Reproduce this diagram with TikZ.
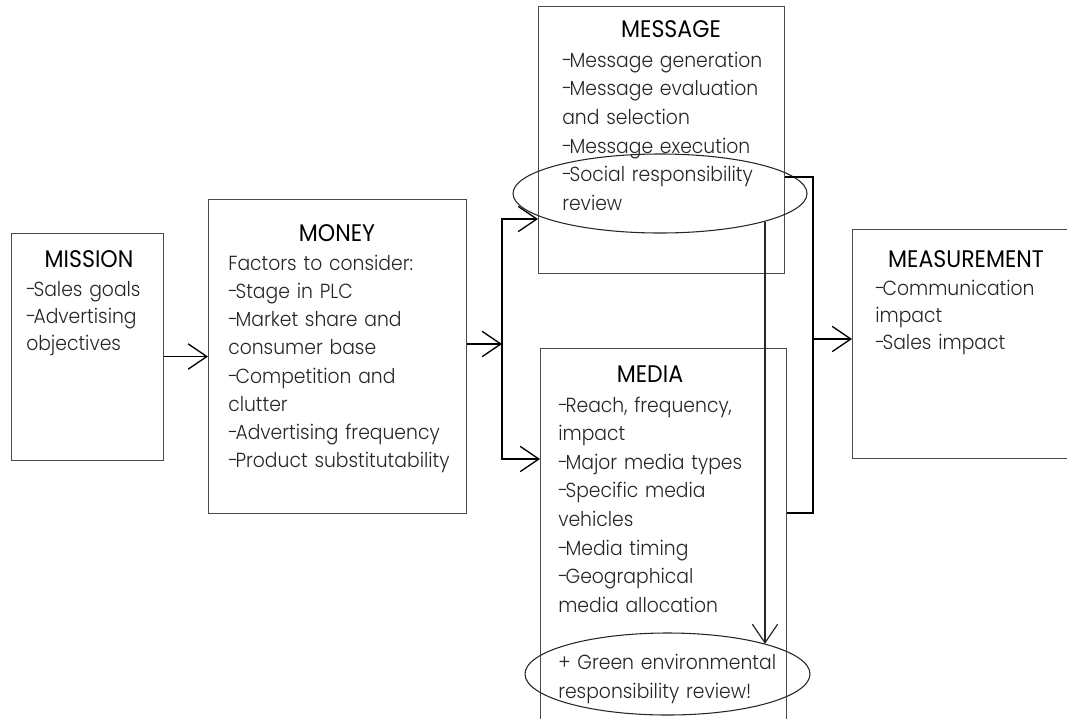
\documentclass[tikz,border=0pt]{standalone}
\usepackage{fontspec}
\setmainfont{Poppins}[UprightFont=* Light, FakeStretch=0.92]
\newfontfamily\titlefont{Poppins}[FakeStretch=0.92]
\usetikzlibrary{arrows.meta,shapes.geometric}

\definecolor{boxline}{HTML}{4A4A4A}
\definecolor{bodytext}{HTML}{262626}

% tight list dash
\newcommand{\ld}{-\kern-0.12em}

\tikzset{
  panel/.style={draw=boxline, line width=0.8pt, anchor=north west, inner sep=0pt},
  heading/.style={anchor=base, inner sep=0pt, font=\titlefont\fontsize{18}{20}\selectfont},
  body/.style={anchor=base west, inner sep=0pt, text width=300pt, align=left,
               text=bodytext, font=\fontsize{15.3}{#1}\selectfont},
  body/.default=21.4pt,
  ring/.style={draw=black!85, line width=0.8pt, ellipse, inner sep=0pt},
  barb/.tip={Straight Barb[length=14pt, width=19pt, line width=1pt]},
  link/.style={draw=black, line width=1.2pt, line join=miter},
  arr/.style={link, -barb},
  twoarr/.style={link, barb-barb},
  thinarr/.style={draw=black!85, line width=0.9pt, -{Straight Barb[length=14pt, width=19pt, line width=0.9pt]}}
}

\begin{document}
\begin{tikzpicture}[x=0.75pt, y=-0.75pt]
  \path[use as bounding box, clip] (0,0) rectangle (1067,718);

  % the five boxes
  \node[panel, minimum width=152*0.75pt, minimum height=227*0.75pt] (mission) at (11,233) {};
  \node[panel, minimum width=258*0.75pt, minimum height=314*0.75pt] (money) at (208,199) {};
  \node[panel, minimum width=246*0.75pt, minimum height=267*0.75pt] (message) at (538,6) {};
  \node[panel, minimum width=246*0.75pt, minimum height=400*0.75pt] (media) at (540,348) {};
  \node[panel, minimum width=240*0.75pt, minimum height=229*0.75pt] (measure) at (852,229) {};

  % headings
  \node[heading] (missionT) at (89,267) {MISSION};
  \node[heading] (moneyT) at (337,241) {MONEY};
  \node[heading] (messageT) at (671,37) {MESSAGE};
  \node[heading] (mediaT) at (650,382) {MEDIA};
  \node[heading] (measureT) at (966,267) {MEASUREMENT};

  % box contents
  \node[body=20.25pt] (missionB) at (26,296)
    {\ld Sales goals\\\ld Advertising\\objectives};
  \node[body=21.2pt] (moneyB) at (228,270)
    {Factors to consider:\\\ld Stage in PLC\\\ld Market share and\\consumer base\\\ld Competition and\\clutter\\\ld Advertising frequency\\\ld Product substitutability};
  \node[body=21.5pt] (messageB) at (562,67)
    {\ld Message generation\\\ld Message evaluation\\and selection\\\ld Message execution\\\ld Social responsibility\\review};
  \node[body=21.45pt] (mediaB) at (558,412)
    {\ld Reach, frequency,\\impact\\\ld Major media types\\\ld Specific media\\vehicles\\\ld Media timing\\\ld Geographical\\media allocation\\[21.45pt]+ Green environmental\\responsibility review!};
  \node[body=20.6pt] (measureB) at (875,295)
    {\ld Communication\\impact\\\ld Sales impact};

  % highlighted review items
  \node[ring, minimum width=294*0.75pt, minimum height=79*0.75pt] (social) at (660,193.5) {};
  \node[ring, minimum width=285*0.75pt, minimum height=82*0.75pt] (green) at (667.5,674) {};

  % flow from mission and money
  \draw[arr] (mission.east |- money.west) -- (money.west);
  \coordinate (fork) at (502,344);
  \coordinate (forkTop) at (502,219);
  \coordinate (forkBot) at (502,459);
  \draw[arr] (money.east |- fork) -- (fork);
  \draw[twoarr] (forkTop -| message.west) -- (forkTop) -- (forkBot) -- (forkBot -| media.west);

  % message and media feed measurement
  \coordinate (brTop) at (813,177);
  \coordinate (brBot) at (813,513);
  \coordinate (brMid) at (813,339);
  \draw[link] (message.east |- brTop) -- (brTop) -- (brBot) -- (media.east |- brBot);
  \draw[arr] (brMid) -- (brMid -| measure.west);

  % social review leads to green review
  \draw[thinarr] (social.-15) -- (social.-15 |- green.17);
\end{tikzpicture}
\end{document}
